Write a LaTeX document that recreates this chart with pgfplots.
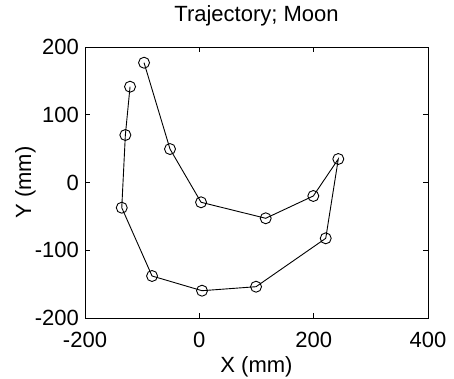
\documentclass[border=0pt]{standalone}
\usepackage{pgfplots}
\pgfplotsset{compat=1.18}
\usepackage{fontspec}
\setmainfont{Liberation Sans}
\begin{document}
\begin{tikzpicture}
\useasboundingbox (-85pt,-60pt) rectangle (369pt,318pt);
\begin{axis}[
  at={(0,0)}, anchor=south west,
  scale only axis,
  width=343pt, height=271pt,
  xmin=-200, xmax=400, ymin=-200, ymax=200,
  xtick={-200,0,200,400}, ytick={-200,-100,0,100,200},
  tick align=inside,
  major tick length=5pt,
  axis line style={line width=0.9pt},
  tick style={line width=0.8pt, black},
  /pgf/number format/assume math mode=true,
  ticklabel style={font=\fontsize{22}{26}\selectfont, inner sep=0pt},
  xticklabel style={yshift=-14pt},
  yticklabel style={xshift=-6pt},
  title={Trajectory; Moon},
  title style={at={(0.5,1.0738)}, anchor=base, inner sep=0pt, font=\fontsize{22}{26}\selectfont},
  xlabel={X (mm)},
  xlabel style={at={(0.5,-0.1993)}, anchor=base, inner sep=0pt, font=\fontsize{22}{26}\selectfont},
  ylabel={Y (mm)},
  ylabel style={at={(-0.1574,0.5)}, anchor=base, inner sep=0pt, font=\fontsize{22}{26}\selectfont},
]
\addplot[black, line width=0.9pt, mark=o, mark size=5.5pt, mark options={line width=0.9pt}] coordinates {
  (-96.7,176.8)
  (-51.3,49.4)
  (3.0,-29.2)
  (116.1,-52.8)
  (199.4,-19.9)
  (243.1,34.7)
  (221.1,-82.4)
  (99.2,-153.8)
  (4.7,-159.7)
  (-82.7,-138)
  (-135.7,-37.2)
  (-129.4,70.1)
  (-121.2,141.4)
};
\end{axis}
\end{tikzpicture}
\end{document}
